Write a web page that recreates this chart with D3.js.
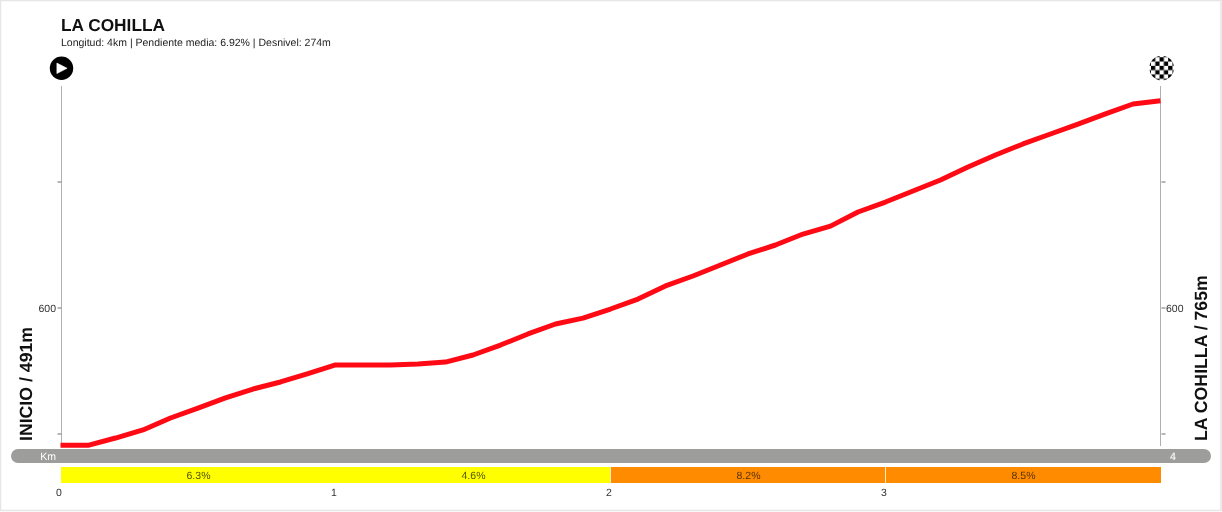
<!DOCTYPE html>
<html><head><meta charset="utf-8">
<script src="https://cdn.jsdelivr.net/npm/d3@7"></script>
<style>html,body{margin:0;padding:0;background:#fff;overflow:hidden}svg{display:block;font-family:"Liberation Sans",Arial,sans-serif;text-rendering:geometricPrecision}</style>
</head><body><div id="c"></div>
<script>
const title = "LA COHILLA";
const subtitle = "Longitud: 4km | Pendiente media: 6.92% | Desnivel: 274m";
const startLabel = "INICIO / 491m";
const endLabel = "LA COHILLA / 765m";
const kmValues = [0,0.1,0.2,0.3,0.4,0.5,0.6,0.7,0.8,0.9,1,1.1,1.2,1.3,1.4,1.5,1.6,1.7,1.8,1.9,2,2.1,2.2,2.3,2.4,2.5,2.6,2.7,2.8,2.9,3,3.1,3.2,3.3,3.4,3.5,3.6,3.7,3.8,3.9,4];
const elevations = [491,491,496.8,503.2,512.7,520.6,528.6,535.7,541.3,548,554.8,554.8,554.8,555.6,557.1,562.7,570.6,579.4,587.3,592,599.2,607.1,617.5,625.4,634.1,642.9,650,658.7,665,676.2,684.1,692.9,701.6,711.9,721.4,730.2,738.1,746,754,761.9,764.5];
const segBreaks = [2,3];
const segments = [{from:0,to:2,color:"#ffff00"},{from:2,to:3,color:"#ff8c00"},{from:3,to:4,color:"#ff8c00"}];
const pctLabels = [{at:0.5,pct:"6.3%"},{at:1.5,pct:"4.6%"},{at:2.5,pct:"8.2%"},{at:3.5,pct:"8.5%"}];
const xTicks = [0,1,2,3];
const yTicks = [500,600,700];
const yLabelled = [600];

const W=1222,H=512;
const x=d3.scaleLinear().domain([0,4]).range([61,1161]);
const y=d3.scaleLinear().domain([500,700]).range([434,182]);
const svg=d3.select("#c").append("svg").attr("width",W).attr("height",H);
const defs=svg.append("defs");
const content=svg.append("g").style("filter","blur(0.5px)");

// outer frame
svg.append("rect").attr("x",0.5).attr("y",0.5).attr("width",W-1.5).attr("height",H-2)
  .attr("fill","none").attr("stroke","#e6e6e6").attr("stroke-width",1.5);

// title
content.append("text").attr("x",61).attr("y",31).attr("font-size",17.3).attr("font-weight",700).attr("fill","#111").text(title);
content.append("text").attr("x",61).attr("y",46).attr("font-size",10.5).attr("fill","#222").text(subtitle);

// vertical axes
const axisTop=86, axisBot=446;
[[61.5,-1],[1160.5,1]].forEach(([ax,dir])=>{
  content.append("line").attr("x1",ax).attr("x2",ax).attr("y1",axisTop).attr("y2",axisBot).attr("stroke","#b0b0b0").attr("stroke-width",1);
  yTicks.forEach(t=>{
    content.append("line").attr("x1",ax+(dir>0?1:-4)).attr("x2",ax+(dir>0?5:0)).attr("y1",y(t)).attr("y2",y(t)).attr("stroke","#909090").attr("stroke-width",1.3);
  });
  yLabelled.forEach(t=>{
    content.append("text").attr("x",dir>0?ax+5.5:ax-5.5).attr("y",y(t)+4).attr("text-anchor",dir>0?"start":"end").attr("font-size",10.5).attr("fill","#333").text(t);
  });
});

// km bar
content.append("rect").attr("x",11).attr("y",449).attr("width",1200).attr("height",14).attr("rx",7).attr("fill","#9d9d9b");
content.append("text").attr("x",48).attr("y",460).attr("text-anchor","middle").attr("font-size",10.5).attr("fill","#fff").text("Km");
content.append("text").attr("x",x(4)+12).attr("y",460).attr("text-anchor","middle").attr("font-size",10.5).attr("font-weight",700).attr("fill","#eee").text("4");

// gradient segments
content.selectAll("rect.seg").data(segments).join("rect").attr("class","seg")
  .attr("x",d=>x(d.from)).attr("y",467).attr("width",d=>x(d.to)-x(d.from)).attr("height",16).attr("fill",d=>d.color);
content.selectAll("line.sep").data(segBreaks).join("line").attr("class","sep")
  .attr("x1",d=>x(d)-0.5).attr("x2",d=>x(d)-0.5).attr("y1",467).attr("y2",483).attr("stroke","#ffe9c8");
content.selectAll("text.pct").data(pctLabels).join("text").attr("class","pct")
  .attr("x",d=>x(d.at)).attr("y",479).attr("text-anchor","middle").attr("font-size",10.5).attr("fill",d=>d.at<2?"#555500":"#5a3200").text(d=>d.pct);

// x ticks
content.selectAll("text.xt").data(xTicks).join("text").attr("class","xt")
  .attr("x",d=>x(d)-2).attr("y",496).attr("text-anchor","middle").attr("font-size",10.5).attr("fill","#333").text(d=>d);

// profile
const line=d3.line().x((d,i)=>x(kmValues[i])-0.5).y(d=>y(d));
content.append("path").datum(elevations).attr("d",line).attr("fill","none").attr("stroke","#ff0a14").attr("stroke-width",5).attr("stroke-linejoin","round");

// side labels
content.append("text").attr("transform","translate(32,441) rotate(-90)").attr("font-size",17.7).attr("font-weight",700).attr("fill","#111").text(startLabel);
content.append("text").attr("transform","translate(1207,441) rotate(-90)").attr("font-size",17.7).attr("font-weight",700).attr("fill","#111").text(endLabel);

// start icon
const s=content.append("g").attr("transform","translate(61.5,68.3)");
s.append("circle").attr("r",11.7).attr("fill","#000");
s.append("path").attr("d",d3.line()([[-4.6,-5.2],[5.6,0],[-4.6,5.2]])+"Z").attr("fill","#fff").attr("stroke","#fff").attr("stroke-width",0.6).attr("stroke-linejoin","round");

// finish icon
const cell=4.3;
const pat=defs.append("pattern").attr("id","chk").attr("patternUnits","userSpaceOnUse").attr("width",cell*2).attr("height",cell*2).attr("x",1161.7-cell/2).attr("y",68-cell/2);
pat.append("rect").attr("width",cell*2).attr("height",cell*2).attr("fill","#fff");
pat.append("rect").attr("width",cell).attr("height",cell).attr("fill","#000");
pat.append("rect").attr("x",cell).attr("y",cell).attr("width",cell).attr("height",cell).attr("fill","#000");
content.append("circle").attr("cx",1161.7).attr("cy",68).attr("r",12.3).attr("fill","url(#chk)");
</script></body></html>
